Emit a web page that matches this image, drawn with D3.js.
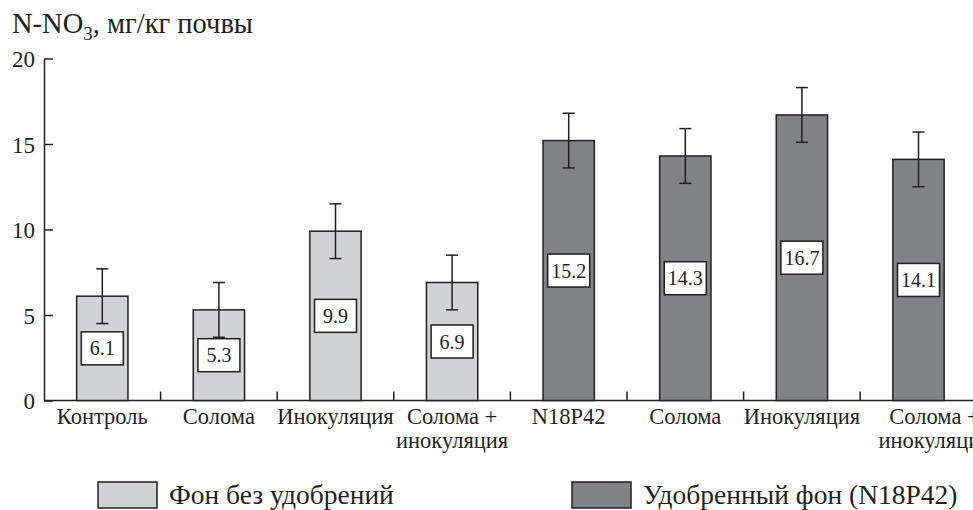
<!DOCTYPE html>
<html lang="ru">
<head>
<meta charset="UTF-8">
<title>N-NO3</title>
<script src="https://d3js.org/d3.v7.min.js"></script>
<style>
    body { margin: 0; background: #fff; }
    svg text { font-family: "Liberation Serif", "Times New Roman", serif; fill: #231f20; }
    .tick text { font-size: 23px; }
    .xlab { font-size: 22.5px; }
    .val { font-size: 20px; text-anchor: middle; }
    .legend text { font-size: 27.5px; }
</style>
</head>
<body>
<script>
    // categories and values
    var categories = ["Контроль", "Солома", "Инокуляция", "Солома +\nинокуляция",
                      "N18P42", "Солома", "Инокуляция", "Солома +\nинокуляция"];
    var values = [6.1, 5.3, 9.9, 6.9, 15.2, 14.3, 16.7, 14.1];
    var errors = [1.6, 1.6, 1.6, 1.6, 1.6, 1.6, 1.6, 1.6];
    var group = [0, 0, 0, 0, 1, 1, 1, 1];
    var seriesNames = ["Фон без удобрений", "Удобренный фон (N18P42)"];
    var yTicks = [0, 5, 10, 15, 20];

    var colors = ["#d1d2d4", "#808285"];
    var ink = "#231f20";

    var w = 973, h = 510;
    var padLeft = 44, padTop = 58.5, baseY = 400.5;

    var svg = d3.select("body").append("svg")
        .attr("width", w)
        .attr("height", h);

    var x = d3.scaleBand()
        .domain(d3.range(categories.length))
        .range([padLeft, padLeft + 116.6 * categories.length])
        .padding(0);

    var y = d3.scaleLinear()
        .domain([0, 20])
        .range([baseY, padTop]);

    var barW = x.bandwidth() * 0.44;

    // y axis, ticks pointing inward
    var yAxis = d3.axisLeft(y)
        .tickValues(yTicks)
        .tickSizeInner(-9)
        .tickSizeOuter(0)
        .tickPadding(9);

    svg.append("g")
        .attr("transform", "translate(" + padLeft + ",0)")
        .call(yAxis)
        .call(function (g) {
            g.selectAll("path, line").attr("stroke", ink).attr("stroke-width", 1.5);
            g.selectAll("text").attr("fill", ink).attr("dy", "0.36em");
        });

    // x axis line + boundary ticks
    svg.append("line")
        .attr("x1", padLeft).attr("x2", w)
        .attr("y1", baseY).attr("y2", baseY)
        .attr("stroke", ink).attr("stroke-width", 1.5);

    svg.selectAll(".xtick")
        .data(d3.range(1, categories.length + 1))
        .enter().append("line")
        .attr("class", "xtick")
        .attr("x1", function (d) { return x.step() * d + padLeft; })
        .attr("x2", function (d) { return x.step() * d + padLeft; })
        .attr("y1", baseY).attr("y2", baseY - 9)
        .attr("stroke", ink).attr("stroke-width", 1.5);

    // category labels
    var labels = svg.selectAll(".xlab")
        .data(categories)
        .enter().append("text")
        .attr("class", "xlab")
        .attr("text-anchor", "middle")
        .attr("transform", function (d, i) {
            var shift = (i === categories.length - 1) ? 16 : 0;
            return "translate(" + (x(i) + x.bandwidth() / 2 + shift) + "," + (baseY + 23) + ")";
        });

    labels.each(function (d) {
        var t = d3.select(this);
        d.split("\n").forEach(function (line, k) {
            t.append("tspan").attr("x", 0).attr("dy", k === 0 ? 0 : 24).text(line);
        });
    });

    // bars
    svg.selectAll(".bar")
        .data(values)
        .enter().append("rect")
        .attr("class", "bar")
        .attr("x", function (d, i) { return x(i) + (x.bandwidth() - barW) / 2; })
        .attr("y", function (d) { return y(d); })
        .attr("width", barW)
        .attr("height", function (d) { return y(0) - y(d); })
        .attr("fill", function (d, i) { return colors[group[i]]; })
        .attr("stroke", ink)
        .attr("stroke-width", 1.5);

    // error bars
    var err = svg.selectAll(".err")
        .data(values)
        .enter().append("g")
        .attr("class", "err")
        .attr("stroke", ink)
        .attr("stroke-width", 1.5);

    err.append("line")
        .attr("x1", function (d, i) { return x(i) + x.bandwidth() / 2; })
        .attr("x2", function (d, i) { return x(i) + x.bandwidth() / 2; })
        .attr("y1", function (d, i) { return y(d - errors[i]); })
        .attr("y2", function (d, i) { return y(d + errors[i]); });

    [-1, 1].forEach(function (s) {
        err.append("line")
            .attr("x1", function (d, i) { return x(i) + x.bandwidth() / 2 - 6; })
            .attr("x2", function (d, i) { return x(i) + x.bandwidth() / 2 + 6; })
            .attr("y1", function (d, i) { return y(d + s * errors[i]); })
            .attr("y2", function (d, i) { return y(d + s * errors[i]); });
    });

    // value boxes at half bar height
    var box = svg.selectAll(".valbox")
        .data(values)
        .enter().append("g")
        .attr("class", "valbox")
        .attr("transform", function (d, i) {
            return "translate(" + (x(i) + x.bandwidth() / 2) + "," + y(d / 2) + ")";
        });

    box.append("rect")
        .attr("x", -21).attr("y", -16.5)
        .attr("width", 42).attr("height", 33)
        .attr("fill", "#fff")
        .attr("stroke", ink)
        .attr("stroke-width", 1.5);

    box.append("text")
        .attr("class", "val")
        .attr("dy", "0.35em")
        .text(function (d) { return d.toFixed(1); });

    // title
    var title = svg.append("text")
        .attr("x", 12).attr("y", 33)
        .style("font-size", "28.5px");
    title.append("tspan").text("N-NO");
    title.append("tspan").attr("dy", 7).style("font-size", "19px").text("3");
    title.append("tspan").attr("dy", -7).text(", мг/кг почвы");

    // legend
    var legendX = [98, 572];
    var lg = svg.selectAll(".legend")
        .data(seriesNames)
        .enter().append("g")
        .attr("class", "legend")
        .attr("transform", function (d, i) { return "translate(" + legendX[i] + ",482)"; });

    lg.append("rect")
        .attr("width", 59).attr("height", 26)
        .attr("fill", function (d, i) { return colors[i]; })
        .attr("stroke", ink)
        .attr("stroke-width", 1.5);

    lg.append("text")
        .attr("x", 71).attr("y", 22)
        .text(function (d) { return d; });
</script>
</body>
</html>
